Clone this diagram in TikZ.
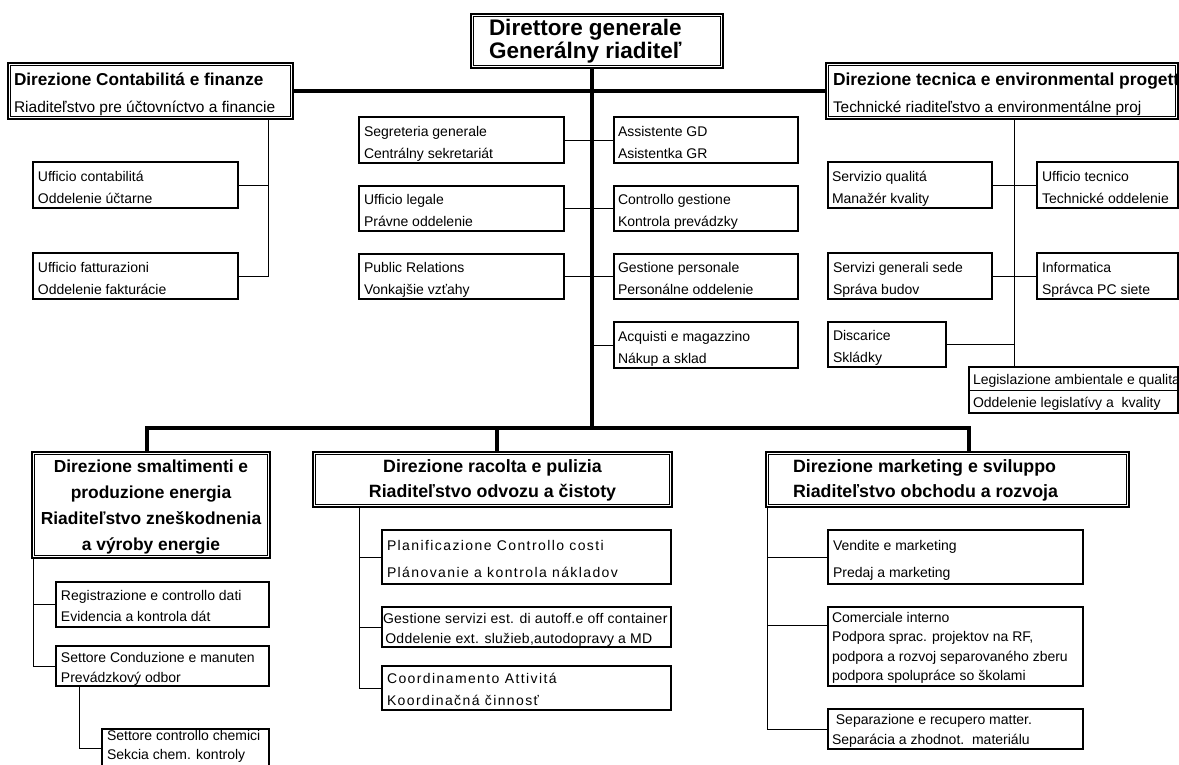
\documentclass[tikz,border=0pt]{standalone}
\usepackage{fontspec}
\setmainfont{Liberation Sans}
\newfontfamily\spfont[LetterSpace=10]{Liberation Sans}
\newfontfamily\spfontb[LetterSpace=2]{Liberation Sans}
\usetikzlibrary{calc}
\tikzset{
  ubox/.style={draw, line width=1.1pt, inner sep=0pt, font=\fontsize{14}{22}\selectfont},
  headbox/.style={draw, line width=1.1pt},
  thickline/.style={line width=3.8pt, line cap=rect},
  thinline/.style={line width=1pt},
}
\def\bxr{-3pt}
% #1 style, #2 name, #3 x1, #4 y1, #5 x2, #6 y2, #7 left pad, #8 text
\newcommand{\bx}[8][]{%
  \pgfmathsetmacro\bxw{#5-#3}\pgfmathsetmacro\bxh{#6-#4}%
  \node[ubox,minimum width=\bxw pt,minimum height=\bxh pt,#1] (#2) at ({(#3+#5)/2},{(#4+#6)/2})
    {\makebox[\bxw pt][l]{\hspace{#7pt}\raisebox{\bxr}[\height][\depth]{\begin{tabular}{@{}l@{}}#8\end{tabular}}}};}
\newcommand{\cbx}[7][]{%
  \pgfmathsetmacro\bxw{#5-#3}\pgfmathsetmacro\bxh{#6-#4}%
  \node[ubox,minimum width=\bxw pt,minimum height=\bxh pt,#1] (#2) at ({(#3+#5)/2},{(#4+#6)/2})
    {\makebox[\bxw pt][c]{\raisebox{\bxr}[\height][\depth]{\begin{tabular}{@{}c@{}}#7\end{tabular}}}};}
\begin{document}
\begin{tikzpicture}[x=1pt,y=-1pt]
\useasboundingbox (0,0) rectangle (1179,764);
% top level
\def\bxr{-1pt}
\bx[headbox,font=\fontsize{22.5}{22.5}\selectfont\bfseries]{dg}{471}{14}{723}{68}{18}{Direttore generale\\Generálny riaditeľ}
\def\bxr{-3pt}
\bx[headbox,font=\fontsize{15.5}{27}\selectfont]{dcf}{8}{63}{293}{119}{6}{{\fontsize{17.2}{27}\selectfont\bfseries Direzione Contabilitá e finanze}\\Riaditeľstvo pre účtovníctvo a financie}
\bx[headbox,font=\fontsize{15.4}{27}\selectfont]{dtp}{826}{63}{1178}{119}{7}{{\fontsize{17.4}{27}\selectfont\bfseries Direzione tecnica e environmental progett}\\Technické riaditeľstvo a environmentálne proj}
% left branch
\bx{uc}{33}{162}{238}{208}{5}{Ufficio contabilitá\\Oddelenie účtarne}
\bx{ufat}{33}{253}{238}{299}{5}{Ufficio fatturazioni\\Oddelenie fakturácie}
% central staff
\bx{seg}{359}{117}{564}{163}{5}{Segreteria generale\\Centrálny sekretariát}
\bx{leg}{359}{186}{564}{231}{5}{Ufficio legale\\Právne oddelenie}
\bx{pr}{359}{254}{564}{299}{5}{Public Relations\\Vonkajšie vzťahy}
\bx{agd}{614}{117}{798}{163}{4}{Assistente GD\\Asistentka GR}
\bx{cg}{614}{186}{798}{231}{4}{Controllo gestione\\Kontrola prevádzky}
\bx{gp}{614}{254}{798}{299}{4}{Gestione personale\\Personálne oddelenie}
\bx{am}{614}{322}{798}{368}{4}{Acquisti e magazzino\\Nákup a sklad}
% right branch
\bx{sq}{828}{162}{992}{208}{4}{Servizio qualitá\\Manažér kvality}
\bx{ut}{1037}{162}{1178}{208}{5}{Ufficio tecnico\\Technické oddelenie}
\bx{sgs}{828}{253}{992}{299}{5}{Servizi generali sede\\Správa budov}
\bx{inf}{1037}{253}{1178}{299}{5}{Informatica\\Správca PC siete}
\bx{dis}{828}{322}{946}{367}{5}{Discarice\\Skládky}
\def\bxr{-1pt}
\bx[font=\fontsize{14}{23}\selectfont]{lac}{969}{367}{1178}{413}{4}{Legislazione ambientale e qualita\\Oddelenie legislatívy a\ \ kvality}
\draw[thinline] (lac.west) -- (lac.east);
% bottom directors
\def\bxr{-1.5pt}
\cbx[headbox,line width=1.6pt,font=\fontsize{17.4}{25.8}\selectfont\bfseries]{dse}{32}{452}{270}{558}{Direzione smaltimenti e\\produzione energia\\Riaditeľstvo zneškodnenia\\a výroby energie}
\def\bxr{0pt}
\cbx[headbox,line width=1.6pt,font=\fontsize{17.8}{25}\selectfont\bfseries]{drp}{313}{452}{672}{507}{Direzione racolta e pulizia\\Riaditeľstvo odvozu a čistoty}
\bx[headbox,line width=1.6pt,font=\fontsize{17.8}{25}\selectfont\bfseries]{dms}{766}{452}{1129}{507}{27}{Direzione marketing e sviluppo\\Riaditeľstvo obchodu a rozvoja}
\def\bxr{-2pt}
% under dse
\bx[font=\fontsize{14}{21}\selectfont]{rcd}{56}{582}{269}{627}{5}{Registrazione e controllo dati\\Evidencia a kontrola dát}
\bx[font=\fontsize{14}{20}\selectfont]{scm}{56}{646}{269}{686}{5}{Settore Conduzione e manuten\\Prevádzkový odbor}
\def\bxr{2pt}
\bx[font=\fontsize{14}{19}\selectfont]{scc}{102}{729}{269}{768}{5}{Settore controllo chemici\\Sekcia chem. kontroly}
\def\bxr{-2pt}
% under drp
\bx[font=\fontsize{14}{27}\selectfont\spfont]{pcc}{382}{531}{671}{583}{5}{Planificazione Controllo costi\\Plánovanie a kontrola nákladov}
\bx[font=\fontsize{14}{20}\selectfont\spfontb]{gse}{382}{607}{671}{647}{1}{Gestione servizi est. di autoff.e off container\\\,Oddelenie ext. služieb,autodopravy a MD}
\bx[font=\fontsize{14}{22}\selectfont\spfont]{coa}{382}{666}{671}{710}{5}{Coordinamento Attivitá\\Koordinačná činnosť}
% under dms
\bx[font=\fontsize{14}{27}\selectfont]{vm}{828}{531}{1083}{583}{5}{Vendite e marketing\\Predaj a marketing}
\def\bxr{-1pt}
\bx[font=\fontsize{14}{19.5}\selectfont]{ci}{828}{607}{1083}{686}{4}{Comerciale interno\\Podpora sprac. projektov na RF,\\podpora a rozvoj separovaného zberu\\podpora spolupráce so školami}
\bx[font=\fontsize{14}{20}\selectfont]{sr}{828}{709}{1083}{749}{4}{\ Separazione e recupero matter.\\Separácia a zhodnot.\ \ materiálu}
% inner lines of the double frames
\foreach \n in {dg,dcf,dtp,dse,drp,dms}
  \draw[line width=0.7pt] ([xshift=3pt,yshift=-3pt]\n.north west) rectangle ([xshift=-3pt,yshift=3pt]\n.south east);
% coordinates for connectors
\coordinate (tk) at (592,0);
\coordinate (bl) at (147,428);
\coordinate (bm) at (497,428);
\coordinate (br) at (969,428);
\coordinate (vl) at (268,0);
\coordinate (vr) at (1014,0);
\coordinate (v1) at (33,0);
\coordinate (v2) at (79,0);
\coordinate (v3) at (359,0);
\coordinate (v4) at (767,0);
\coordinate (cij) at ($(ci.north west)+(0,19)$);
% thick connectors
\draw[thickline] (dcf.east) -- (dtp.west);
\draw[thickline] (dg.south -| tk) -- (tk |- bl);
\draw[thickline] (dse.north -| bl) -- (bl) -- (br) -- (dms.north -| br);
\draw[thickline] (bm) -- (drp.north -| bm);
% thin connectors
\draw[thinline] (dcf.south -| vl) -- (vl |- ufat.east) -- (ufat.east);
\draw[thinline] (uc.east) -- (uc.east -| vl);
\draw[thinline] (seg.east) -- (agd.west);
\draw[thinline] (leg.east) -- (cg.west);
\draw[thinline] (pr.east) -- (gp.west);
\draw[thinline] (am.west) -- (am.west -| tk);
\draw[thinline] (dtp.south -| vr) -- (lac.north -| vr);
\draw[thinline] (sq.east) -- (ut.west);
\draw[thinline] (sgs.east) -- (inf.west);
\draw[thinline] (dis.east) -- (dis.east -| vr);
\draw[thinline] (dse.south -| v1) -- (v1 |- scm.west) -- (scm.west);
\draw[thinline] (rcd.west) -- (rcd.west -| v1);
\draw[thinline] (scm.south -| v2) -- (v2 |- scc.west) -- (scc.west);
\draw[thinline] (drp.south -| v3) -- (v3 |- coa.west) -- (coa.west);
\draw[thinline] (pcc.west) -- (pcc.west -| v3);
\draw[thinline] (gse.west) -- (gse.west -| v3);
\draw[thinline] (dms.south -| v4) -- (v4 |- sr.west) -- (sr.west);
\draw[thinline] (vm.west) -- (vm.west -| v4);
\draw[thinline] (cij) -- (cij -| v4);
\end{tikzpicture}
\end{document}
